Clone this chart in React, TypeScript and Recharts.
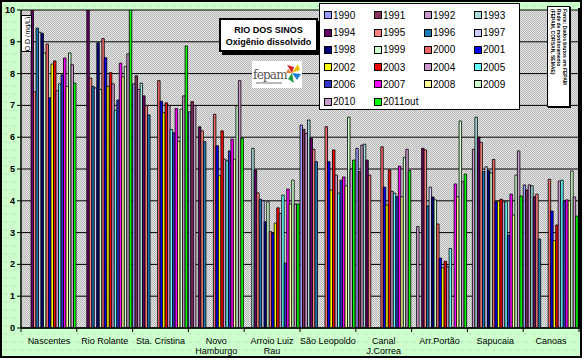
import React from 'react';
import { BarChart, Bar, XAxis, YAxis, CartesianGrid } from 'recharts';

const categories = [
  'Nascentes', 'Rio Rolante', 'Sta. Cristina', 'Novo\nHamburgo', 'Arroio Luiz\nRau',
  'São Leopoldo', 'Canal\nJ.Correa', 'Arr.Portão', 'Sapucaia', 'Canoas',
];

const yTicks = [0, 1, 2, 3, 4, 5, 6, 7, 8, 9, 10];

// values per category (same order as categories)
const y1990 = [null, null, 7.68, 6.8, null, 6.38, 5.65, null, null, 4.5];
const y1991 = [null, null, 7.93, 7.12, null, 6.25, 4.92, null, null, 4.34];
const y1992 = [null, null, 7.5, 7.0, null, 6.12, 5.75, 3.19, 5.62, 4.5];
const y1993 = [null, null, 7.7, null, 5.65, 6.54, 5.78, null, 6.63, 4.47];
const y1994 = [10, 10, 7.3, 6.33, 4.97, 5.97, 5.28, 5.65, 6.0, 4.13];
const y1995 = [7.43, 7.86, 7.0, 6.2, 4.25, 5.62, 4.81, 5.6, 5.84, 4.21];
const y1996 = [9.43, 7.6, 6.7, 5.86, 4.05, 5.23, null, 3.84, 4.92, 2.8];
const y1997 = [9.3, 7.55, null, null, 4.0, null, null, 4.43, 5.07, null];
const y1998 = [9.27, 8.97, null, null, 3.34, null, null, 4.12, 4.95, null];
const y1999 = [8.65, 7.5, null, null, 3.97, null, null, 4.03, 4.88, null];
const y2000 = [8.93, 9.1, 7.78, 6.72, 3.03, 6.33, 5.7, 3.27, 5.3, 4.68];
const y2001 = [7.24, 8.5, 7.13, 5.73, 2.98, 5.23, 4.43, 2.2, 3.97, 3.68];
const y2002 = [8.3, 7.6, 6.77, 4.79, 3.3, 4.34, 3.87, 1.89, 3.99, 2.75];
const y2003 = [8.4, 8.03, 7.08, 6.2, 3.78, 5.6, 4.97, 2.1, 4.05, 3.24];
const y2004 = [7.46, 7.68, 7.0, 5.31, 3.6, 4.81, 4.3, 1.93, 3.97, 4.62];
const y2005 = [7.68, 6.85, 6.24, 5.26, 4.18, 4.24, 4.24, 2.5, 3.97, 4.65];
const y2006 = [7.96, 7.17, 6.14, 5.57, 2.04, 4.65, 4.13, null, 2.92, 4.0];
const y2007 = [8.49, 8.33, 6.9, 5.94, 4.37, 4.75, 5.09, 4.53, 4.21, 4.03];
const y2008 = [7.6, 7.9, 5.87, 5.31, 3.9, 4.47, 4.13, 4.13, 3.55, 4.0];
const y2009 = [8.65, 8.22, 6.88, 6.99, 4.65, 6.63, 5.37, 6.51, 4.81, 4.94];
const y2010 = [8.28, 8.62, 7.3, 7.78, 3.9, 5.0, 5.62, 4.6, 5.57, 4.12];
const y2011out = [7.7, 10, 8.87, 5.97, 3.9, 5.28, 4.95, 4.84, 4.15, 3.52];

const seriesNames = [
  '1990', '1991', '1992', '1993', '1994', '1995', '1996', '1997', '1998', '1999', '2000',
  '2001', '2002', '2003', '2004', '2005', '2006', '2007', '2008', '2009', '2010', '2011out',
];
const seriesValues = [
  y1990, y1991, y1992, y1993, y1994, y1995, y1996, y1997, y1998, y1999, y2000,
  y2001, y2002, y2003, y2004, y2005, y2006, y2007, y2008, y2009, y2010, y2011out,
];
const seriesColors = [
  '#9999FF', '#8A3060', '#CC99CC', '#A8DCDC', '#660066', '#FF8080', '#1A7AB8', '#CCCCFF',
  '#000080', '#CCFFCC', '#F06868', '#0000FF', '#FFFF00', '#FF0000', '#CC99CC', '#66FFFF',
  '#3333CC', '#FF00FF', '#FFFF99', '#CCFFCC', '#CC99CC', '#00FF00',
];

const data = categories.map((c, ci) => {
  const row: Record<string, any> = { name: c };
  seriesNames.forEach((s, si) => {
    row[s] = seriesValues[si][ci];
  });
  return row;
});

const FONT = '"Liberation Sans", Arial, sans-serif';

const CatTick = (props: any) => {
  const { x, y, payload, index } = props;
  const half = payload && typeof payload.offset === 'number' && payload.offset > 0 ? payload.offset : 27.9;
  const lines = String(payload.value).split('\n');
  return (
    <g>
      <line x1={x - half} x2={x - half} y1={y} y2={y + 4} stroke="#000" strokeWidth={1} />
      {index === categories.length - 1 && (
        <line x1={x + half} x2={x + half} y1={y} y2={y + 4} stroke="#000" strokeWidth={1} />
      )}
      {lines.map((l, i) => (
        <text key={i} x={x} y={y + 16 + i * 9.5} textAnchor="middle" fontSize={9} fontFamily={FONT} fill="#000">
          {l}
        </text>
      ))}
    </g>
  );
};

const YTick = (props: any) => {
  const { x, y, payload } = props;
  return (
    <text x={x} y={y + 3} textAnchor="end" fontSize={9} fontWeight="bold" fontFamily={FONT} fill="#000">
      {payload.value}
    </text>
  );
};

const legendCols = [4, 54, 104, 154];
const legendRows = [11, 28.5, 45.5, 63, 80, 97.5];

export default function App() {
  return (
    <div style={{ position: 'absolute', left: 0, top: 0, width: 585, height: 363, background: '#fff', fontFamily: FONT }}>
      {/* outer frame */}
      <div
        style={{
          position: 'absolute', left: 0, top: 0, width: 582, height: 358, boxSizing: 'border-box',
          border: '2px solid #000', background: '#CCFFCC',
          backgroundImage: 'radial-gradient(#9fd89f 0.6px, transparent 0.8px)', backgroundSize: '8px 8px',
        }}
      />
      {/* plot background */}
      <div
        style={{
          position: 'absolute', left: 21, top: 10, width: 558, height: 318,
          background: '#d0d0d0',
          backgroundImage: 'repeating-conic-gradient(#b8b8b8 0% 25%, #e4e4e4 0% 50%)',
          backgroundSize: '2px 2px',
        }}
      />
      <div style={{ position: 'absolute', left: 0, top: 0 }}>
        <BarChart
          width={581}
          height={358}
          data={data}
          margin={{ top: 10, right: 2, bottom: 0, left: 0 }}
          barCategoryGap={0}
          barGap={0}
        >
          <CartesianGrid xAxisId="cat" vertical={false} stroke="#000" strokeWidth={1} strokeOpacity={1} />
          <XAxis
            xAxisId="cat"
            dataKey="name"
            height={30}
            interval={0}
            tickLine={false}
            tickSize={0}
            tickMargin={0}
            axisLine={{ stroke: '#000', strokeWidth: 1.5 }}
            tick={<CatTick />}
          />
          <YAxis
            width={21}
            domain={[0, 10]}
            ticks={yTicks}
            allowDataOverflow
            tickSize={4}
            tickMargin={2}
            tickLine={{ stroke: '#000' }}
            axisLine={{ stroke: '#000', strokeWidth: 1.5 }}
            tick={<YTick />}
          />
          {seriesNames.map((s, i) => (
            <Bar
              key={s}
              xAxisId="cat"
              dataKey={s}
              fill={seriesColors[i]}
              stroke="#000"
              strokeWidth={0.8}
              barSize={2.5}
              isAnimationActive={false}
            />
          ))}
        </BarChart>
      </div>
      {/* plot right border */}
      <div style={{ position: 'absolute', left: 578, top: 8, width: 2, height: 321, background: '#000' }} />

      {/* y axis label box */}
      <div
        style={{
          position: 'absolute', left: 21, top: 15, width: 11, height: 37, background: '#fff',
          border: '1px solid #000', boxSizing: 'border-box',
        }}
      >
        <div
          style={{
            position: 'absolute', left: '50%', top: '50%', transform: 'translate(-50%, -50%) rotate(-90deg)',
            fontSize: 7, whiteSpace: 'nowrap', color: '#000',
          }}
        >
          O D (mg/L)
        </div>
      </div>

      {/* title box */}
      <div
        style={{
          position: 'absolute', left: 219, top: 18, width: 99, height: 34, background: '#fff',
          border: '2px solid #000', boxSizing: 'border-box', boxShadow: '3px 3px 0 #000',
          textAlign: 'center', fontWeight: 'bold', fontSize: 9, lineHeight: '12px', paddingTop: 4, color: '#000',
          whiteSpace: 'nowrap',
        }}
      >
        <div>RIO DOS SINOS</div>
        <div>Oxigênio dissolvido</div>
      </div>

      {/* fepam logo */}
      <div style={{ position: 'absolute', left: 252, top: 61, width: 50, height: 27, background: '#fff' }}>
        <svg width={50} height={27}>
          <text x={1} y={18} fontSize={12} fontFamily='"DejaVu Serif", serif' fill="#555" letterSpacing={-0.8}>fepam</text>
          <rect x={4} y={21} width={26} height={2} fill="#bbb" />
          <path d="M40 12 L35 4 L42 6 Z" fill="#e02020" />
          <path d="M40 12 L46 3 L48 9 Z" fill="#f0c000" />
          <path d="M40 12 L49 13 L45 19 Z" fill="#2080d0" />
          <path d="M40 12 L42 22 L36 18 Z" fill="#20a040" />
          <path d="M40 12 L34 12 L36 8 Z" fill="#f08030" />
        </svg>
      </div>

      {/* legend */}
      <div
        style={{
          position: 'absolute', left: 319, top: 3, width: 201, height: 107, background: '#fff',
          border: '1px solid #000', boxSizing: 'border-box',
        }}
      >
        {seriesNames.map((s, i) => {
          const col = i % 4;
          const row = Math.floor(i / 4);
          return (
            <div
              key={s}
              style={{
                position: 'absolute', left: legendCols[col], top: legendRows[row] - 6, height: 12,
                display: 'flex', alignItems: 'center', fontSize: 10, color: '#000', whiteSpace: 'nowrap',
              }}
            >
              <span
                style={{
                  display: 'inline-block', width: 6, height: 6, background: seriesColors[i],
                  border: '1px solid #000', marginRight: 1,
                }}
              />
              {s}
            </div>
          );
        })}
      </div>

      {/* source box */}
      <div
        style={{
          position: 'absolute', left: 547, top: 6, width: 23, height: 101, background: '#fff',
          border: '1px solid #000', boxSizing: 'border-box', boxShadow: '1px 1px 0 #000', overflow: 'hidden',
        }}
      >
        <div
          style={{
            position: 'absolute', left: 11, top: 50, transform: 'translate(-50%, -50%) rotate(90deg)',
            fontSize: 5, lineHeight: '6px', whiteSpace: 'nowrap', fontWeight: 'bold', color: '#000', width: 96,
          }}
        >
          <div>Fonte: Dados brutos em FEPAM</div>
          <div>Rede de monitoramento</div>
          <div>(FEPAM, CORSAN, SEMAE)</div>
        </div>
      </div>
    </div>
  );
}
